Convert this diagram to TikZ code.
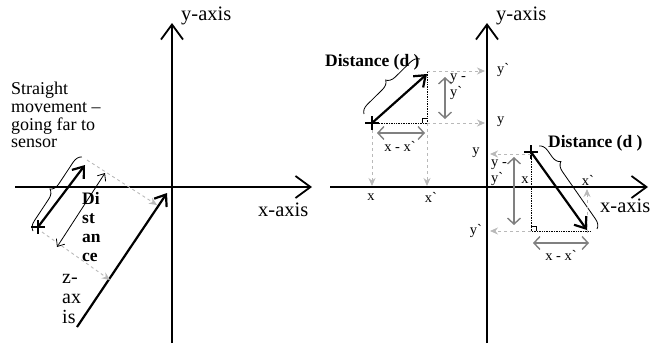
\documentclass[tikz,border=0pt]{standalone}
\usepackage{fontspec}
\setmainfont{Liberation Serif}
\usetikzlibrary{arrows.meta,positioning,decorations.pathreplacing,calc}

\begin{document}
\begin{tikzpicture}[x=1pt, y=-1pt, every node/.style={font=\fontsize{14.5}{16}\selectfont, inner sep=0pt}]
\tikzset{axis/.style={line width=1.8pt, -{Straight Barb[length=15pt,width=22pt]}}}
\tikzset{move/.style={line width=2.2pt, -{Straight Barb[length=10pt,width=15pt]}}}
\tikzset{proj/.style={gray!55, dashed, line width=0.9pt, -{Stealth[length=8pt,width=7pt]}}}
\tikzset{span/.style={gray, line width=1.4pt, {Straight Barb[length=6pt,width=13pt]}-{Straight Barb[length=6pt,width=13pt]}}}
\tikzset{guide/.style={densely dotted, line width=0.7pt}}
\tikzset{brc/.style={decorate, decoration={brace, amplitude=9pt}, line width=0.8pt}}
\tikzset{axlbl/.style={font=\fontsize{20.5}{22}\selectfont}}
\tikzset{note/.style={font=\fontsize{18}{17.7}\selectfont, align=left}}
\tikzset{boldnote/.style={font=\bfseries\fontsize{17.5}{19}\selectfont, align=left}}
\useasboundingbox (0,0) rectangle (666,343);

% left picture
\coordinate (ytopL) at (172,23);
\coordinate (ybotL) at (172,343);
\coordinate (xlL) at (15,187);
\coordinate (xrL) at (312,187);
\draw[axis] (ybotL) -- (ytopL);
\draw[axis] (xlL) -- (xrL);
\node[axlbl, anchor=west] (yaxL) at (181,16) {y-axis};
\node[axlbl, anchor=west] (xaxL) at (258,210) {x-axis};
\coordinate (zs) at (77,327);
\coordinate (ze) at (167,193);
\draw[move] (zs) -- (ze);
\coordinate (mvs) at (38,227);
\coordinate (mve) at (85,165);
\draw[move] (mvs) -- (mve);
\draw[line width=1.1pt] (mvs) ++(-7,0) -- ++(14,0) (mvs) ++(0,-7) -- ++(0,14);
\coordinate (ds) at (57,247);
\coordinate (de) at (105,173);
\draw[line width=0.8pt, {Straight Barb[length=6pt,width=10pt]}-{Straight Barb[length=6pt,width=10pt]}] (ds) -- (de);
\coordinate (pa) at (87,160);
\coordinate (pb) at (157,205);
\coordinate (pc) at (42,232);
\coordinate (pd) at (110,280);
\draw[proj] (pa) -- (pb);
\draw[proj] (pc) -- (pd);
\draw[brc] (33,231) -- (82,157);
\node[note, anchor=north west] (mvtxt) at (11,82) {Straight\\movement --\\going far to\\sensor};
\node[boldnote, anchor=north west] (dtxt) at (82,192) {Di\\st\\an\\ce};
\node[note, anchor=north west, font=\fontsize{20}{20}\selectfont] (ztxt) at (62,274) {z-\\ax\\is};

% right picture
\coordinate (ytopR) at (487,23);
\coordinate (ybotR) at (487,343);
\coordinate (xlR) at (330,187);
\coordinate (xrR) at (648,187);
\draw[axis] (ybotR) -- (ytopR);
\draw[axis] (xlR) -- (xrR);
\node[axlbl, anchor=west] (yaxR) at (496,16) {y-axis};
\node[axlbl, anchor=west] (xaxR) at (600,206) {x-axis};

% upper object
\coordinate (p2) at (372,123);
\coordinate (q2) at (427,74);
\coordinate (c2) at (427,123);
\draw[move] (p2) -- (q2);
\draw[line width=1.3pt] (p2) ++(-7,0) -- ++(14,0) (p2) ++(0,-7) -- ++(0,14);
\draw[guide] (p2) -- (c2) -- (427,71);
\draw[line width=0.7pt] (422,123) |- (427,118);
\draw[brc] (364,114) -- (420,59);
\node[boldnote, anchor=west] (dist2) at (325,62) {Distance (d )};
\draw[proj] (427,71) -- (485,71);
\draw[proj] (c2) -- (485,123);
\node[anchor=west] (yp2) at (497,70) {y\textasciigrave};
\node[anchor=west] (y2) at (497,122) {y};
\draw[proj] (372,130) -- (372,186);
\draw[proj] (c2) -- (427,186);
\node (x2) at (371,197) {x};
\node (xp2) at (431,197) {x\textasciigrave};
\draw[span] (377,133) -- (425,133);
\node (dx2) at (400,146) {x - x\textasciigrave};
\draw[span] (445,77) -- (445,119);
\node[anchor=north west, align=left] (dy2) at (450,74) {y -\\y\textasciigrave};

% lower object
\coordinate (p3) at (531,152);
\coordinate (q3) at (587,230);
\coordinate (c3) at (531,231);
\draw[move] (p3) -- (q3);
\draw[line width=1.3pt] (p3) ++(-7,0) -- ++(14,0) (p3) ++(0,-7) -- ++(0,14);
\draw[guide] (p3) -- (c3) -- (590,231);
\draw[line width=0.7pt] (531,226) -| (536,231);
\draw[brc, decoration={aspect=0.25}] (539,146) -- (597,229);
\node[boldnote, anchor=west] (dist3) at (548,143) {Distance (d )};
\draw[proj] (531,154) -- (490,154);
\draw[proj] (c3) -- (490,231);
\node (y3) at (476,153) {y};
\node (yp3) at (476,231) {y\textasciigrave};
\node (x3) at (525,180) {x};
\node (xp3) at (588,180) {x\textasciigrave};
\draw[proj] (587,233) -- (587,189);
\draw[span] (514,157) -- (514,225);
\node[anchor=north west, align=left] (dy3) at (491,160) {y -\\y\textasciigrave};
\draw[span] (533,243) -- (589,243);
\node (dx3) at (561,255) {x - x\textasciigrave};
\end{tikzpicture}
\end{document}
